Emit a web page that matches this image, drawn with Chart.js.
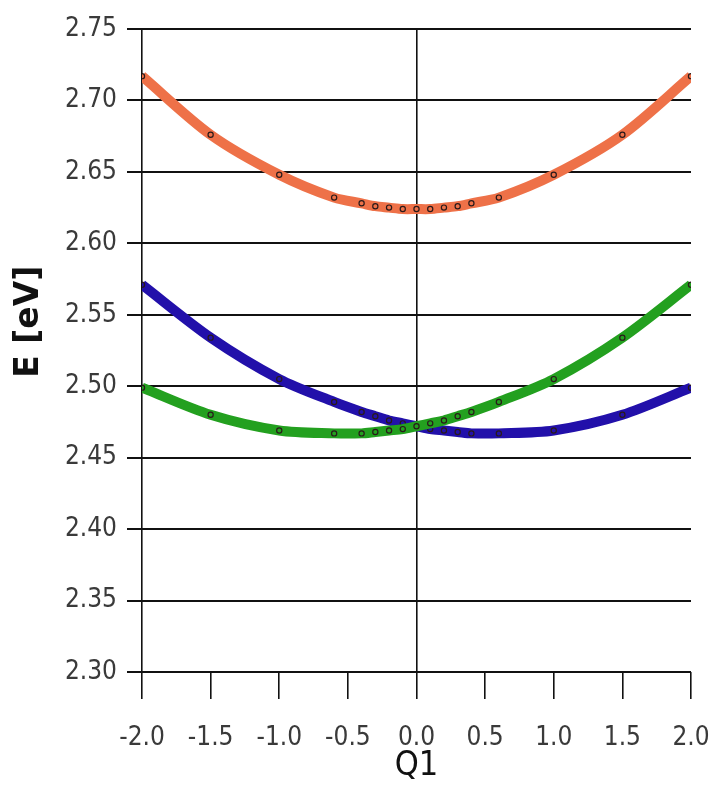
<!DOCTYPE html>
<html>
<head>
<meta charset="utf-8">
<script src="https://cdn.jsdelivr.net/npm/chart.js@4"></script>
<style>
  html, body { margin: 0; padding: 0; background: #fff; }
  #wrap { width: 716px; height: 786px; position: relative; }
</style>
</head>
<body>
<div id="wrap"><canvas id="c"></canvas></div>
<script>
// Q1 sample positions
const q1 = [-2.0, -1.5, -1.0, -0.6, -0.4, -0.3, -0.2, -0.1, 0.0, 0.1, 0.2, 0.3, 0.4, 0.6, 1.0, 1.5, 2.0];
// Energies [eV]
const orangeE = [2.717, 2.676, 2.648, 2.632, 2.628, 2.626, 2.625, 2.624, 2.624, 2.624, 2.625, 2.626, 2.628, 2.632, 2.648, 2.676, 2.717];
const greenE  = [2.499, 2.480, 2.469, 2.467, 2.467, 2.468, 2.469, 2.470, 2.472, 2.474, 2.476, 2.479, 2.482, 2.489, 2.505, 2.534, 2.571];
const blueE   = [2.571, 2.534, 2.505, 2.489, 2.482, 2.479, 2.476, 2.474, 2.472, 2.470, 2.469, 2.468, 2.467, 2.467, 2.469, 2.480, 2.499];
// Tick labels
const xTickLabels = ['-2.0', '-1.5', '-1.0', '-0.5', '0.0', '0.5', '1.0', '1.5', '2.0'];
const yTickLabels = ['2.30', '2.35', '2.40', '2.45', '2.50', '2.55', '2.60', '2.65', '2.70', '2.75'];
const xTitle = 'Q1';
const yTitle = 'E [eV]';

const toPts = arr => q1.map((x, i) => ({ x: x, y: arr[i] }));
const tickFont = { family: "'DejaVu Sans Condensed', 'DejaVu Sans', sans-serif", size: 26 };

function ds(label, data, color) {
  return {
    label: label,
    data: toPts(data),
    borderColor: color,
    backgroundColor: color,
    borderWidth: 10,
    tension: 0.3,
    pointRadius: 2.6,
    pointBorderWidth: 1.2,
    pointBorderColor: '#2a1a1a',
    pointBackgroundColor: color,
    pointStyle: 'circle'
  };
}

new Chart(document.getElementById('c'), {
  type: 'line',
  data: {
    datasets: [
      ds('upper', orangeE, '#ee7148'),
      ds('green', greenE, '#23a01f'),
      ds('blue', blueE, '#2210aa')
    ]
  },
  options: {
    responsive: true,
    maintainAspectRatio: false,
    animation: false,
    layout: { padding: { top: 29, right: 25, left: 0, bottom: 0 } },
    plugins: { legend: { display: false }, tooltip: { enabled: false } },
    scales: {
      x: {
        type: 'linear',
        min: -2, max: 2,
        afterFit: s => { s.height = 114; s.paddingLeft = 0; s.paddingRight = 0; },
        afterBuildTicks: s => { s.ticks = xTickLabels.map(t => ({ value: parseFloat(t) })); },
        ticks: {
          font: tickFont,
          color: '#3a3a3a',
          padding: 24,
          maxRotation: 0,
          autoSkip: false,
          callback: (v, i) => xTickLabels[i]
        },
        grid: {
          color: ctx => (ctx.tick && (ctx.tick.value === 0 || ctx.tick.value === -2)) ? '#111' : 'rgba(0,0,0,0)',
          tickColor: '#111',
          lineWidth: 1.6,
          tickLength: 27,
          drawTicks: true
        },
        border: { display: false },
        title: {
          display: true,
          text: xTitle,
          color: '#111',
          font: { family: "'DejaVu Sans Condensed', 'DejaVu Sans', sans-serif", size: 34, lineHeight: 1 },
          padding: { top: 0, bottom: 3 }
        }
      },
      y: {
        type: 'linear',
        min: 2.30, max: 2.75,
        afterFit: s => { s.width = 142; s.paddingTop = 0; s.paddingBottom = 0; },
        afterBuildTicks: s => { s.ticks = yTickLabels.map(t => ({ value: parseFloat(t) })); },
        ticks: {
          font: tickFont,
          color: '#3a3a3a',
          padding: 10,
          autoSkip: false,
          callback: (v, i) => yTickLabels[i]
        },
        grid: {
          color: '#111',
          lineWidth: 2,
          tickLength: 15,
          drawTicks: true
        },
        border: { display: false },
        title: {
          display: true,
          text: '     ' + yTitle,
          color: '#111',
          font: { family: "'DejaVu Sans', sans-serif", size: 33, weight: 'bold', lineHeight: 1.2 },
          padding: { top: 10, bottom: 0 }
        }
      }
    }
  }
});
</script>
</body>
</html>
